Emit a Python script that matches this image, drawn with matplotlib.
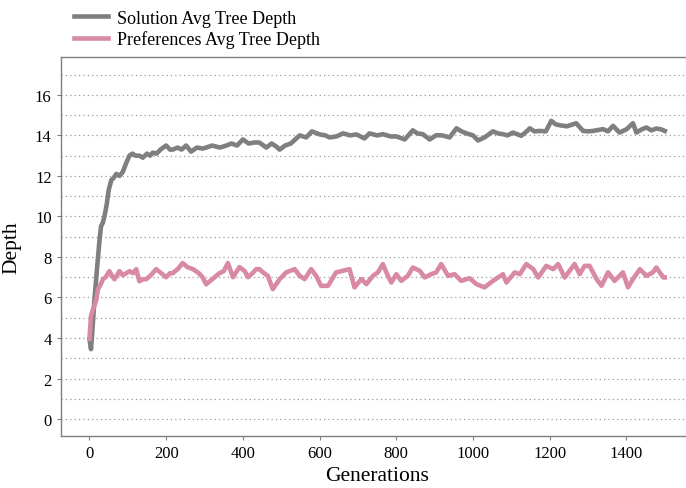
import matplotlib
matplotlib.use("Agg")
import matplotlib.pyplot as plt
from matplotlib.ticker import MultipleLocator

plt.rcParams['font.family'] = ['Liberation Serif', 'DejaVu Serif']

sol_gen = [0, 4, 8, 13, 20, 26, 30, 35, 39, 45, 50, 57, 63, 70, 78, 87, 95, 104, 112, 120,
           130, 139, 150, 158, 165, 175, 185, 200, 210, 217, 230, 240, 252, 265, 280, 295,
           304, 320, 340, 357, 370, 385, 400, 415, 430, 443, 461, 475, 487, 496, 510, 525,
           548, 565, 580, 600, 615, 626, 644, 661, 680, 696, 717, 730, 750, 765, 785, 800,
           822, 843, 855, 869, 887, 904, 920, 939, 957, 970, 983, 1000, 1013, 1030, 1052,
           1065, 1078, 1090, 1104, 1126, 1140, 1148, 1160, 1174, 1190, 1204, 1215, 1226,
           1245, 1269, 1287, 1300, 1313, 1339, 1352, 1365, 1382, 1400, 1417, 1426, 1440,
           1452, 1465, 1478, 1490, 1500]
sol_val = [3.95, 3.45, 4.5, 5.9, 7.5, 8.8, 9.5, 9.7, 10.0, 10.6, 11.3, 11.8, 11.9, 12.1, 12.0,
           12.2, 12.6, 13.0, 13.1, 13.0, 13.0, 12.9, 13.1, 13.0, 13.15, 13.1, 13.3, 13.5, 13.3,
           13.3, 13.4, 13.3, 13.5, 13.2, 13.4, 13.35, 13.4, 13.5, 13.4, 13.5, 13.6, 13.5, 13.8,
           13.6, 13.65, 13.65, 13.4, 13.6, 13.45, 13.3, 13.5, 13.6, 14.0, 13.9, 14.2, 14.05,
           14.0, 13.9, 13.95, 14.1, 14.0, 14.05, 13.85, 14.1, 14.0, 14.06, 13.95, 13.95, 13.8,
           14.25, 14.1, 14.06, 13.8, 14.01, 14.0, 13.9, 14.35, 14.2, 14.1, 14.0, 13.75, 13.9,
           14.2, 14.1, 14.06, 14.0, 14.14, 13.98, 14.2, 14.35, 14.2, 14.22, 14.2, 14.72, 14.55,
           14.5, 14.45, 14.6, 14.22, 14.2, 14.22, 14.31, 14.2, 14.47, 14.14, 14.3, 14.6, 14.14,
           14.3, 14.39, 14.25, 14.34, 14.3, 14.22]

pref_gen = [0, 4, 9, 13, 18, 22, 28, 35, 42, 52, 58, 65, 72, 78, 87, 96, 105, 114, 122, 130,
            140, 148, 160, 174, 187, 200, 210, 217, 230, 243, 255, 270, 285, 295, 304, 320,
            339, 350, 361, 374, 391, 405, 413, 425, 435, 443, 455, 465, 478, 496, 513, 535,
            548, 561, 578, 591, 604, 622, 643, 661, 678, 691, 709, 722, 739, 752, 765, 778,
            787, 800, 813, 830, 843, 861, 874, 891, 904, 917, 935, 952, 969, 991, 1009, 1030,
            1052, 1078, 1087, 1109, 1122, 1139, 1157, 1170, 1191, 1209, 1222, 1239, 1265,
            1278, 1291, 1304, 1322, 1335, 1352, 1369, 1391, 1404, 1417, 1435, 1452, 1469,
            1478, 1496, 1500]
pref_val = [3.95, 5.1, 5.4, 5.6, 5.9, 6.4, 6.6, 6.9, 7.0, 7.3, 7.1, 6.9, 7.1, 7.3, 7.1, 7.2,
            7.3, 7.2, 7.4, 6.8, 6.9, 6.9, 7.1, 7.4, 7.2, 7.0, 7.2, 7.2, 7.4, 7.7, 7.5, 7.4, 7.2,
            7.0, 6.65, 6.9, 7.2, 7.3, 7.7, 7.0, 7.5, 7.3, 7.0, 7.2, 7.4, 7.4, 7.2, 7.07, 6.41,
            6.91, 7.24, 7.40, 7.07, 6.91, 7.40, 7.07, 6.57, 6.58, 7.24, 7.32, 7.40, 6.50, 6.91,
            6.66, 7.07, 7.24, 7.65, 7.07, 6.74, 7.15, 6.82, 7.07, 7.48, 7.32, 6.99, 7.15, 7.24,
            7.65, 7.07, 7.15, 6.82, 6.95, 6.66, 6.50, 6.82, 7.15, 6.74, 7.24, 7.15, 7.65, 7.40,
            6.99, 7.56, 7.40, 7.65, 6.99, 7.65, 7.15, 7.56, 7.56, 6.91, 6.58, 7.24, 6.82, 7.24,
            6.50, 6.91, 7.40, 7.07, 7.24, 7.48, 6.99, 6.99]

series_labels = ["Solution Avg Tree Depth", "Preferences Avg Tree Depth"]
x_ticks = [0, 200, 400, 600, 800, 1000, 1200, 1400]
y_ticks = [0, 2, 4, 6, 8, 10, 12, 14, 16]

fig = plt.figure(figsize=(6.86, 4.89), dpi=100)
ax = fig.add_axes([0.0885, 0.107, 0.9225, 0.774])

ax.plot(sol_gen, sol_val, color='#7f7f7f', lw=3.3, label=series_labels[0], solid_joinstyle='round')
ax.plot(pref_gen, pref_val, color='#d98aa3', lw=3.3, label=series_labels[1], solid_joinstyle='round')

ax.set_xlim(-75, 1575)
ax.set_ylim(-0.82, 17.86)
ax.set_xticks(x_ticks)
ax.set_yticks(y_ticks)
ax.yaxis.set_minor_locator(MultipleLocator(1))
ax.grid(True, which='both', axis='y', linestyle=(0, (1, 2.5)), color='#999999', lw=0.9)
ax.tick_params(axis='both', which='major', labelsize=12, length=3, color='#808080', width=0.8)
ax.tick_params(axis='y', which='minor', length=0)
for s in ax.spines.values():
    s.set_color('#808080')
    s.set_linewidth(1.0)
ax.spines['right'].set_visible(False)

ax.set_xlabel("Generations", fontsize=15.5, labelpad=4)
ax.set_ylabel("Depth", fontsize=15.5, labelpad=10)

ax.legend(loc='lower left', bbox_to_anchor=(0.006, 1.0), frameon=False, fontsize=13,
          handlelength=1.9, handletextpad=0.5, borderaxespad=0.1, labelspacing=0.2)

fig.savefig("out.png", dpi=100)
